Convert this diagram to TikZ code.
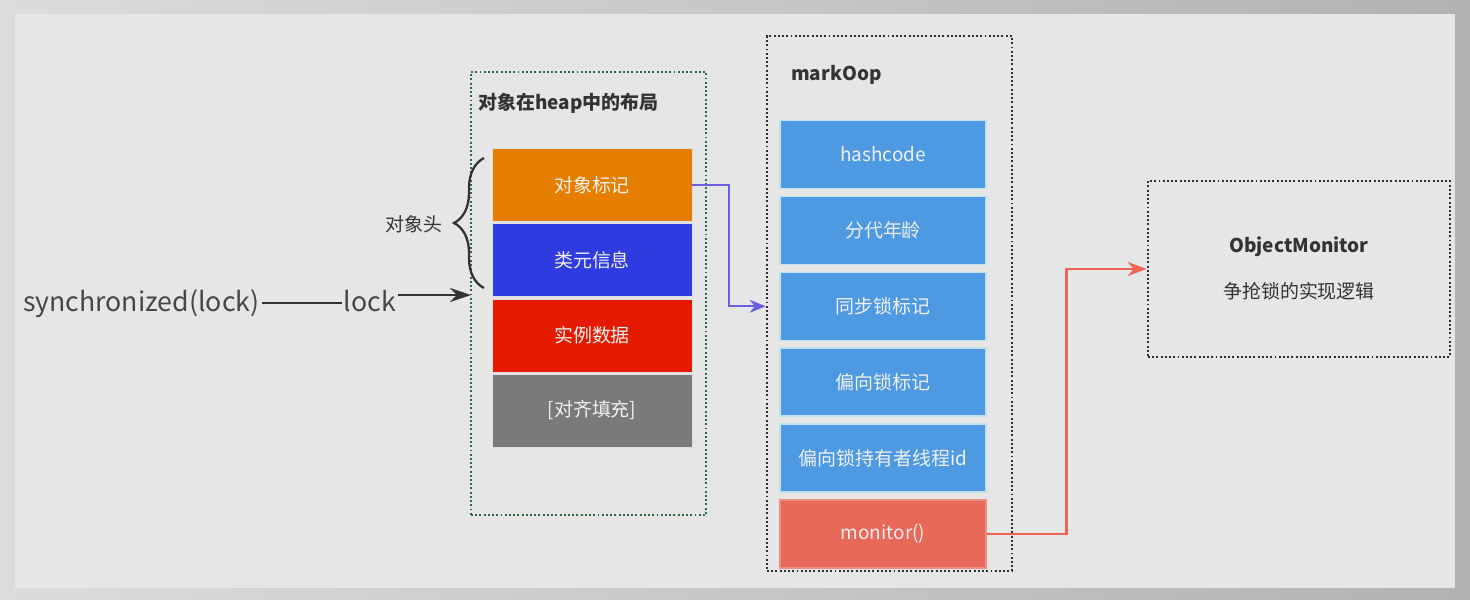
\documentclass[tikz,border=0pt]{standalone}
\usepackage{fontspec}
\setmainfont{Noto Sans CJK SC}
\usepackage{xcolor}
\usepackage{tikz}
\usetikzlibrary{arrows.meta, positioning, calc, decorations.pathreplacing}
\definecolor{EdgeLight}{HTML}{DCDCDC}
\definecolor{EdgeDark}{HTML}{B2B2B2}
\definecolor{PanelGray}{HTML}{E6E6E6}
\definecolor{HeapGreen}{HTML}{2F6B42}
\definecolor{FrameBlack}{HTML}{2E2E2E}
\definecolor{InkGray}{HTML}{333333}
\definecolor{BoxText}{HTML}{F0F0F0}
\definecolor{MarkOrange}{HTML}{E67E00}
\definecolor{KlassBlue}{HTML}{2E3BE0}
\definecolor{DataRed}{HTML}{E41B00}
\definecolor{PadGray}{HTML}{7A7A7A}
\definecolor{MarkBlue}{HTML}{4D9AE3}
\definecolor{MarkEdge}{HTML}{BFE2EE}
\definecolor{MonitorRed}{HTML}{E8685A}
\definecolor{ArrowPurple}{HTML}{6A5FE0}
\definecolor{ArrowRed}{HTML}{EE6558}
\tikzset{
    dotframe/.style={rectangle, line width=1.6pt, dash pattern=on 1.1pt off 1.3pt, inner sep=0pt},
    frametitle/.style={text=InkGray, font=\fontsize{10.8}{13}\selectfont\bfseries, inner sep=1pt},
    plainlabel/.style={text=InkGray, font=\fontsize{10.8}{13}\selectfont, inner sep=1pt},
    codelabel/.style={text=InkGray!90!white, font=\fontsize{15.2}{18}\selectfont, inner sep=1pt},
    heapbox/.style={rectangle, minimum width=4cm, minimum height=1.46cm, inner sep=0pt,
        text centered, draw=white!75!PadGray, line width=0.4pt, text=BoxText, font=\fontsize{10.8}{13}\selectfont},
    markbox/.style={rectangle, minimum width=4.12cm, minimum height=1.36cm, inner sep=0pt,
        text centered, draw=MarkEdge, line width=0.8pt, fill=MarkBlue, text=BoxText, font=\fontsize{10.8}{13}\selectfont},
    headbrace/.style={decorate, decoration={brace, amplitude=0.6cm}, line width=1.3pt, InkGray},
    plainline/.style={line width=1.3pt, InkGray},
    lockarrow/.style={-{Stealth[length=4.2mm, width=2.8mm]}, line width=1.4pt, InkGray},
    markarrow/.style={-{Stealth[length=3.2mm, width=2.6mm]}, line width=1.3pt, ArrowPurple},
    monarrow/.style={-{Stealth[length=3.8mm, width=2.8mm]}, line width=1.6pt, ArrowRed},
}
\begin{document}
\begin{tikzpicture}[x=0.02cm, y=-0.02cm]
    \fill[left color=EdgeLight, right color=EdgeDark] (0,0) rectangle (1470,599);
    \fill[PanelGray] (15,14) rectangle (1455,588);

    \node[dotframe, draw=HeapGreen, minimum width=4.7cm, minimum height=8.86cm] (heap) at (588.5,293.5) {};
    \node[frametitle, anchor=west] (heaptitle) at (476,103) {对象在heap中的布局};

    \node[heapbox, fill=MarkOrange] (mark) at (592,185) {对象标记};
    \node[heapbox, fill=KlassBlue, below=0.03cm of mark] (klass) {类元信息};
    \node[heapbox, fill=DataRed, below=0.03cm of klass] (data) {实例数据};
    \node[heapbox, fill=PadGray, below=0.03cm of data] (pad) {[对齐填充]};

    \draw[headbrace] (484,288) -- (484,158);
    \node[plainlabel, anchor=east] (header) at (445,224) {对象头};

    \node[dotframe, draw=FrameBlack, minimum width=4.9cm, minimum height=10.7cm] (markoop) at (889.5,303.5) {};
    \node[frametitle, anchor=west] (marktitle) at (789,75) {markOop};

    \node[markbox] (hash) at (883,154.5) {hashcode};
    \node[markbox, below=0.13cm of hash] (age) {分代年龄};
    \node[markbox, below=0.13cm of age] (synclock) {同步锁标记};
    \node[markbox, below=0.13cm of synclock] (biaslock) {偏向锁标记};
    \node[markbox, below=0.13cm of biaslock] (biasowner) {偏向锁持有者线程id};
    \node[markbox, fill=MonitorRed, draw=MonitorRed!75!white, below=0.13cm of biasowner] (monitor) {monitor()};

    \node[dotframe, draw=FrameBlack, minimum width=6.04cm, minimum height=3.52cm] (objmon) at (1299,269) {};
    \node[frametitle] (objtitle) at (1299,247) {ObjectMonitor};
    \node[plainlabel] (objdesc) at (1299,291) {争抢锁的实现逻辑};

    \node[codelabel, anchor=base west] (syncword) at (21,311) {synchronized(lock)};
    \node[codelabel, anchor=base] (lockword) at (370,311) {lock};
    \draw[plainline] (syncword.east) -- (syncword.east -| lockword.west);
    \coordinate (lockin) at (471,295);
    \draw[lockarrow] (lockword.east |- lockin) -- (lockin);

    \coordinate (syncin) at (markoop.west |- synclock.west);
    \draw[markarrow] (mark.east) -| ($(mark.east)!0.5!(syncin)$) |- (syncin);
    \draw[monarrow] (monitor.east) -| ($(monitor.east)!0.5!(objmon.west)$) |- (objmon.west);
\end{tikzpicture}
\end{document}
